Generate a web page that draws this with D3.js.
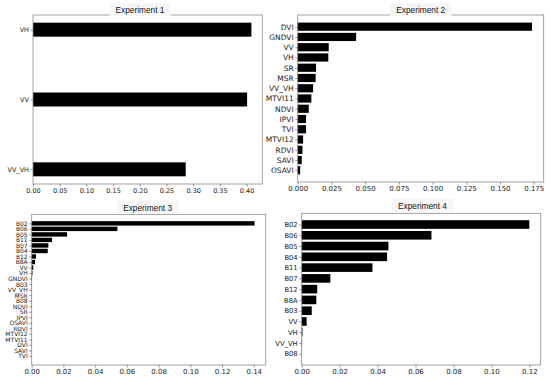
<!DOCTYPE html>
<html>
<head>
<meta charset="utf-8">
<script src="https://cdn.jsdelivr.net/npm/d3@7"></script>
<style>
    body { margin: 0; background: #fff; }
    svg { display: block; }
</style>
</head>
<body>
<svg id="chart" width="550" height="378"></svg>
<script>
// feature importance, four experiments

const exp1Labels = ['VH', 'VV', 'VV_VH'];
const exp1Values = [0.409, 0.401, 0.286];

const exp2Labels = ['DVI', 'GNDVI', 'VV', 'VH', 'SR', 'MSR', 'VV_VH', 'MTVI11',
                    'NDVI', 'IPVI', 'TVI', 'MTVI12', 'RDVI', 'SAVI', 'OSAVI'];
const exp2Values = [0.1737, 0.0433, 0.0230, 0.0227, 0.0136, 0.0133, 0.0114, 0.0101,
                    0.0082, 0.0062, 0.0062, 0.0040, 0.0035, 0.0030, 0.0018];

const exp3Labels = ['B02', 'B06', 'B05', 'B11', 'B07', 'B04', 'B12', 'B8A', 'VV', 'VH',
                    'GNDVI', 'B03', 'VV_VH', 'MSR', 'B08', 'NDVI', 'SR', 'IPVI', 'OSAVI',
                    'RDVI', 'MTVI12', 'MTVI11', 'DVI', 'SAVI', 'TVI'];
const exp3Values = [0.1405, 0.0540, 0.0223, 0.0128, 0.0105, 0.0101, 0.0027, 0.0021, 0.0010, 0.0005,
                    0.0002, 0.0001, 0.0001, 0.00008, 0.00007, 0.00006, 0.00005, 0.00004, 0.00004,
                    0.00003, 0.00003, 0.00002, 0.00002, 0.00001, 0.00001];

const exp4Labels = ['B02', 'B06', 'B05', 'B04', 'B11', 'B07', 'B12', 'B8A', 'B03', 'VV',
                    'VH', 'VV_VH', 'B08'];
const exp4Values = [0.1200, 0.0684, 0.0457, 0.0450, 0.0373, 0.0151, 0.0082, 0.0077, 0.0053, 0.0026,
                    0.0004, 0.0002, 0.0001];

const exp1Ticks = [0, 0.05, 0.10, 0.15, 0.20, 0.25, 0.30, 0.35, 0.40];
const exp2Ticks = [0, 0.025, 0.050, 0.075, 0.100, 0.125, 0.150, 0.175];
const exp3Ticks = [0, 0.02, 0.04, 0.06, 0.08, 0.10, 0.12, 0.14];
const exp4Ticks = [0, 0.02, 0.04, 0.06, 0.08, 0.10, 0.12];

const panels = [
    { title: 'Experiment 1', labels: exp1Labels, values: exp1Values, ticks: exp1Ticks, fmt: '.2f',
      x0: 33, x1: 262.3, y0: 15, y1: 184, tx: 140, ty: 10, barH: 0.2, yFont: 6.5, xFont: 6.5 },
    { title: 'Experiment 2', labels: exp2Labels, values: exp2Values, ticks: exp2Ticks, fmt: '.3f',
      x0: 297.7, x1: 543.7, y0: 15, y1: 182, tx: 420.7, ty: 10, barH: 0.8, yFont: 7.5, xFont: 7 },
    { title: 'Experiment 3', labels: exp3Labels, values: exp3Values, ticks: exp3Ticks, fmt: '.2f',
      x0: 31.7, x1: 265.7, y0: 214.3, y1: 365, tx: 147.6, ty: 207.5, barH: 0.8, yFont: 6, xFont: 7 },
    { title: 'Experiment 4', labels: exp4Labels, values: exp4Values, ticks: exp4Ticks, fmt: '.2f',
      x0: 301.7, x1: 540.7, y0: 213.3, y1: 365, tx: 422.5, ty: 205.5, barH: 0.8, yFont: 6.8, xFont: 7 },
];

const svg = d3.select('#chart');

function drawPanel (p) {
    let n = p.labels.length;
    let xMax = d3.max(p.values) * 1.05;

    // matplotlib style margins around the bars
    let span = (n - 1) + p.barH;
    let pad = span * 0.05;

    let x = d3.scaleLinear().domain([0, xMax]).range([p.x0, p.x1]);
    let y = d3.scaleLinear()
        .domain([-p.barH / 2 - pad, n - 1 + p.barH / 2 + pad])
        .range([p.y0, p.y1]);

    let g = svg.append('g');

    g.selectAll('rect.bar')
        .data(p.values)
        .enter()
        .append('rect')
        .attr('class', 'bar')
        .attr('x', x(0))
        .attr('y', (d, i) => y(i - p.barH / 2))
        .attr('width', (d) => x(d) - x(0))
        .attr('height', y(p.barH) - y(0))
        .attr('fill', '#000');

    // frame
    g.append('rect')
        .attr('x', p.x0)
        .attr('y', p.y0)
        .attr('width', p.x1 - p.x0)
        .attr('height', p.y1 - p.y0)
        .attr('fill', 'none')
        .attr('stroke', '#8a8a8a')
        .attr('stroke-width', 0.8);

    let xAxis = d3.axisBottom(x)
        .tickValues(p.ticks)
        .tickFormat(d3.format(p.fmt))
        .tickSize(2.5)
        .tickPadding(2);

    let xg = g.append('g')
        .attr('transform', 'translate(0,' + p.y1 + ')')
        .call(xAxis);
    xg.select('.domain').remove();
    xg.selectAll('line').attr('stroke', '#555').attr('stroke-width', 0.6);
    xg.selectAll('text')
        .attr('fill', '#222')
        .style('font-family', 'DejaVu Sans')
        .style('font-size', p.xFont + 'px');

    let yAxis = d3.axisLeft(y)
        .tickValues(d3.range(n))
        .tickFormat((i) => p.labels[i])
        .tickSize(2.5)
        .tickPadding(1.5);

    let yg = g.append('g')
        .attr('transform', 'translate(' + p.x0 + ',0)')
        .call(yAxis);
    yg.select('.domain').remove();
    yg.selectAll('line').attr('stroke', '#555').attr('stroke-width', 0.6);
    yg.selectAll('text')
        .attr('fill', '#222')
        .style('font-family', 'DejaVu Sans')
        .style('font-size', p.yFont + 'px');

    // title with its faint box
    let t = g.append('text')
        .attr('x', p.tx)
        .attr('y', p.ty)
        .attr('text-anchor', 'middle')
        .attr('dominant-baseline', 'central')
        .style('font-family', 'Liberation Sans, Arial, sans-serif')
        .style('font-size', '8.3px')
        .attr('fill', '#111')
        .text(p.title);

    let bb = t.node().getBBox();
    g.insert('rect', () => t.node())
        .attr('x', bb.x - 6)
        .attr('y', bb.y - 2)
        .attr('width', bb.width + 12)
        .attr('height', bb.height + 3)
        .attr('fill', '#f6f6f6');
}

panels.forEach(drawPanel);
</script>
</body>
</html>
